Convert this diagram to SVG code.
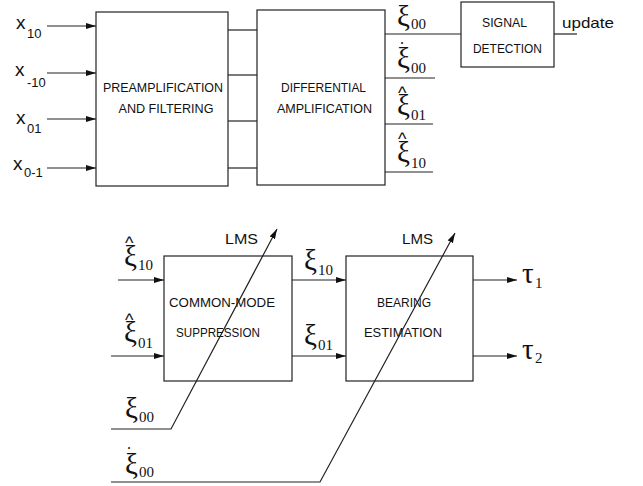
<svg xmlns="http://www.w3.org/2000/svg" width="643" height="486" viewBox="0 0 643 486">
<defs>
<marker id="arr" viewBox="0 0 10 6" refX="10" refY="3" markerWidth="10" markerHeight="6" markerUnits="userSpaceOnUse" orient="auto">
<path d="M0,0 L10,3 L0,6 z" fill="#111"/>
</marker>
<style>
.box{fill:#fff;stroke:#222;stroke-width:1.2}
.ln{fill:none;stroke:#222;stroke-width:1.2}
.bt{font-family:"Liberation Sans",Arial,sans-serif;font-size:13.5px;fill:#111;text-anchor:middle}
.lb{font-family:"Liberation Sans",Arial,sans-serif;fill:#111}
.gk{font-family:"Liberation Serif","Times New Roman",serif;fill:#111;font-size:29px}
.sb{font-size:15px}
.ht{font-family:"Liberation Sans",Arial,sans-serif;font-size:18px}
.dt{font-size:16px}
</style>
</defs>
<rect width="643" height="486" fill="#fff"/>
<g id="preamp">
<rect class="box" x="96" y="12" width="132" height="174"/>
<text class="bt" x="163" y="92" textLength="120" lengthAdjust="spacingAndGlyphs">PREAMPLIFICATION</text>
<text class="bt" x="166" y="113" textLength="95" lengthAdjust="spacingAndGlyphs">AND FILTERING</text>
</g>
<g id="diffamp">
<rect class="box" x="257" y="10" width="128" height="175"/>
<text class="bt" x="323.5" y="92" textLength="85" lengthAdjust="spacingAndGlyphs">DIFFERENTIAL</text>
<text class="bt" x="324.5" y="113" textLength="95" lengthAdjust="spacingAndGlyphs">AMPLIFICATION</text>
</g>
<g id="sigdet">
<rect class="box" x="461" y="2" width="93" height="65"/>
<text class="bt" x="504.5" y="27" textLength="45" lengthAdjust="spacingAndGlyphs">SIGNAL</text>
<text class="bt" x="507.5" y="53" textLength="69" lengthAdjust="spacingAndGlyphs">DETECTION</text>
</g>
<g id="cms">
<rect class="box" x="164" y="256" width="128" height="125"/>
<text class="bt" x="222" y="307" textLength="106" lengthAdjust="spacingAndGlyphs">COMMON-MODE</text>
<text class="bt" x="218" y="337" textLength="84" lengthAdjust="spacingAndGlyphs">SUPPRESSION</text>
</g>
<g id="bearing">
<rect class="box" x="346" y="256" width="127" height="125"/>
<text class="bt" x="404" y="307" textLength="54" lengthAdjust="spacingAndGlyphs">BEARING</text>
<text class="bt" x="403" y="337" textLength="78" lengthAdjust="spacingAndGlyphs">ESTIMATION</text>
</g>
<g id="connectors">
<line class="ln" x1="47" y1="26" x2="96" y2="26" marker-end="url(#arr)"/>
<line class="ln" x1="47" y1="73" x2="96" y2="73" marker-end="url(#arr)"/>
<line class="ln" x1="47" y1="119" x2="96" y2="119" marker-end="url(#arr)"/>
<line class="ln" x1="47" y1="168" x2="96" y2="168" marker-end="url(#arr)"/>
<line class="ln" x1="228" y1="30" x2="257" y2="30"/>
<line class="ln" x1="228" y1="75" x2="257" y2="75"/>
<line class="ln" x1="228" y1="121" x2="257" y2="121"/>
<line class="ln" x1="228" y1="168" x2="257" y2="168"/>
<line class="ln" x1="385" y1="34" x2="461" y2="34"/>
<line class="ln" x1="385" y1="78" x2="435" y2="78"/>
<line class="ln" x1="385" y1="124" x2="433" y2="124"/>
<line class="ln" x1="385" y1="172" x2="433" y2="172"/>
<line class="ln" x1="554" y1="34" x2="577" y2="34"/>
<line class="ln" x1="118" y1="280" x2="164" y2="280" marker-end="url(#arr)"/>
<line class="ln" x1="111" y1="356" x2="164" y2="356" marker-end="url(#arr)"/>
<polyline class="ln" points="111,429 171,429 277,229" marker-end="url(#arr)"/>
<polyline class="ln" points="111,482 320,482 455,233" marker-end="url(#arr)"/>
<line class="ln" x1="292" y1="280" x2="346" y2="280" marker-end="url(#arr)"/>
<line class="ln" x1="292" y1="356" x2="346" y2="356" marker-end="url(#arr)"/>
<line class="ln" x1="473" y1="280" x2="517" y2="280" marker-end="url(#arr)"/>
<line class="ln" x1="473" y1="356" x2="517" y2="356" marker-end="url(#arr)"/>
</g>
<g id="labels">
<text class="lb" font-size="19" x="16" y="29">x<tspan font-size="13" x="27" y="38">10</tspan></text>
<text class="lb" font-size="19" x="15" y="76">x<tspan font-size="13" x="27" y="87">-10</tspan></text>
<text class="lb" font-size="19" x="16" y="124">x<tspan font-size="13" x="27" y="133">01</tspan></text>
<text class="lb" font-size="19" x="13" y="170">x<tspan font-size="13" x="24" y="177">0-1</tspan></text>
<text class="lb" font-size="15" x="562" y="28" textLength="52" lengthAdjust="spacingAndGlyphs">update</text>
<text class="lb" font-size="15.5" x="225" y="244" textLength="33" lengthAdjust="spacingAndGlyphs">LMS</text>
<text class="lb" font-size="15.5" x="402" y="244" textLength="31" lengthAdjust="spacingAndGlyphs">LMS</text>

<text class="gk" x="397" y="26">ξ<tspan class="sb" x="411" y="29">00</tspan></text>
<text class="gk"><tspan class="dt" x="400" y="44">.</tspan><tspan x="397" y="68">ξ</tspan><tspan class="sb" x="411" y="73">00</tspan></text>
<text class="gk"><tspan class="ht" x="398" y="99">^</tspan><tspan x="397" y="115">ξ</tspan><tspan class="sb" x="411" y="120">01</tspan></text>
<text class="gk"><tspan class="ht" x="398" y="145">^</tspan><tspan x="397" y="162">ξ</tspan><tspan class="sb" x="411" y="168">10</tspan></text>

<text class="gk"><tspan class="ht" x="125" y="249">^</tspan><tspan x="124" y="266">ξ</tspan><tspan class="sb" x="138" y="270">10</tspan></text>
<text class="gk"><tspan class="ht" x="125" y="326">^</tspan><tspan x="124" y="342">ξ</tspan><tspan class="sb" x="138" y="348">01</tspan></text>
<text class="gk" x="125" y="418">ξ<tspan class="sb" x="139" y="422">00</tspan></text>
<text class="gk"><tspan class="dt" x="127" y="449">.</tspan><tspan x="125" y="474">ξ</tspan><tspan class="sb" x="139" y="477">00</tspan></text>

<text class="gk" font-size="28" x="304" y="270">ξ<tspan class="sb" x="318" y="275">10</tspan></text>
<text class="gk" font-size="28" x="304" y="345">ξ<tspan class="sb" x="318" y="350">01</tspan></text>
<text class="gk" font-size="28" x="522" y="283">τ<tspan class="sb" x="535" y="288">1</tspan></text>
<text class="gk" font-size="28" x="522" y="359">τ<tspan class="sb" x="535" y="363">2</tspan></text>
</g>
</svg>
